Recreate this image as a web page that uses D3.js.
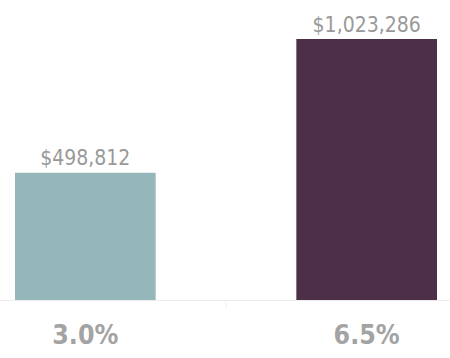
<!DOCTYPE html>
<html><head><meta charset="utf-8">
<script src="https://cdn.jsdelivr.net/npm/d3@7"></script>
<style>body{margin:0;background:#fff}svg{display:block}</style>
</head><body>
<svg id="c" width="450" height="358"></svg>
<script>
const categories = ["3.0%", "6.5%"];
const values = [498812, 1023286];
const colors = ["#96b7ba", "#4b3047"];

const svg = d3.select("#c");
const baseY = 300, maxY = 39;
const x = d3.scaleBand().domain(categories).range([15, 437]).paddingInner(0.5).paddingOuter(0);
const y = d3.scaleLinear().domain([0, d3.max(values)]).range([baseY, maxY]);
const fmt = v => "$" + d3.format(",")(v);

svg.append("line").attr("x1", 0).attr("x2", 450).attr("y1", baseY + 0.5).attr("y2", baseY + 0.5)
  .attr("stroke", "#ececec").attr("stroke-width", 1);
const mid = (x(categories[0]) + x.bandwidth() + x(categories[1])) / 2;
svg.append("line").attr("x1", mid).attr("x2", mid).attr("y1", baseY).attr("y2", baseY + 9)
  .attr("stroke", "#f0f0f0").attr("stroke-width", 1);

svg.selectAll("rect.bar").data(values).join("rect")
  .attr("x", (d, i) => x(categories[i]))
  .attr("y", d => y(d))
  .attr("width", x.bandwidth())
  .attr("height", d => baseY - y(d))
  .attr("fill", (d, i) => colors[i]);

svg.selectAll("text.val").data(values).join("text")
  .attr("x", (d, i) => x(categories[i]) + x.bandwidth() / 2)
  .attr("y", d => y(d) - 7.5)
  .attr("text-anchor", "middle")
  .attr("font-family", "'DejaVu Sans Condensed', 'DejaVu Sans'")
  .attr("font-stretch", "condensed")
  .attr("font-size", 21)
  .attr("fill", "#999")
  .text(d => fmt(d));

svg.selectAll("text.cat").data(categories).join("text")
  .attr("x", d => x(d) + x.bandwidth() / 2)
  .attr("y", 343.5)
  .attr("text-anchor", "middle")
  .attr("font-family", "'DejaVu Sans Condensed', 'DejaVu Sans'")
  .attr("font-stretch", "condensed")
  .attr("font-weight", "bold")
  .attr("font-size", 26.5)
  .attr("fill", "#a3a3a3")
  .text(d => d);
</script>
</body></html>
